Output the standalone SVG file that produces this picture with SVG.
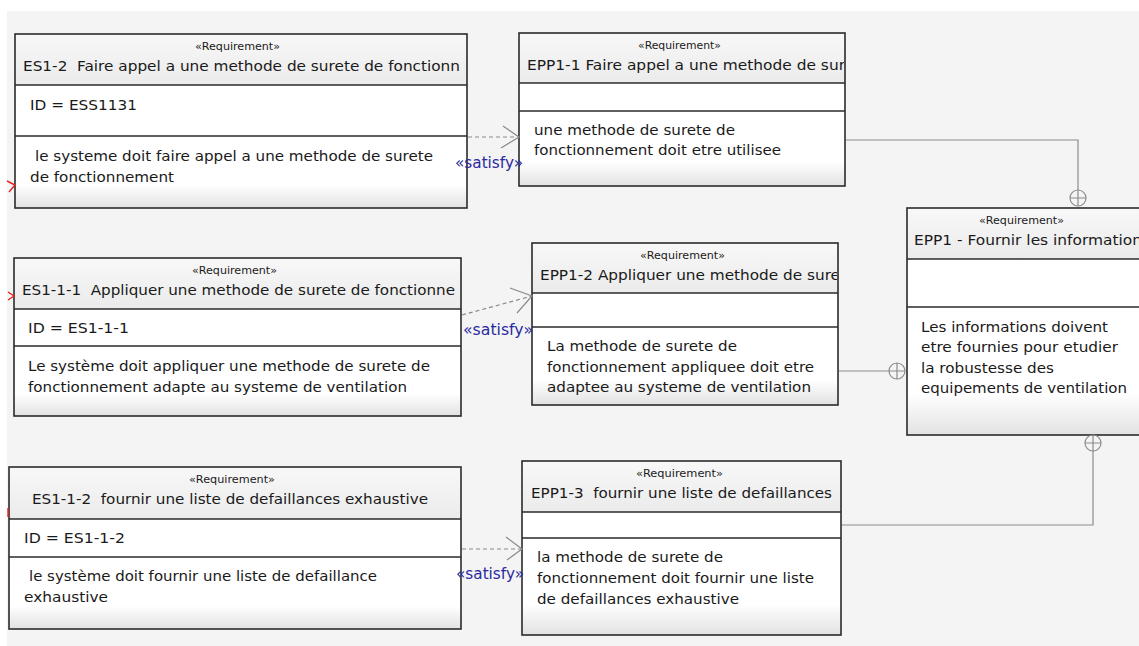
<svg xmlns="http://www.w3.org/2000/svg" width="1139" height="646" viewBox="0 0 1139 646">
<style>
.box{stroke:#2b2b2b;stroke-width:1.6}
.hdr{fill:url(#gh)}
.c1{fill:#ffffff}
.c2{fill:url(#gb)}
.sep{stroke:#2b2b2b;stroke-width:1.6}
text{font-family:"DejaVu Sans","Liberation Sans",Arial,sans-serif;fill:#1a1a1a}
.st{font-size:10.5px;text-anchor:middle}
.tt{font-size:14px}
.tx{font-size:14px}
.sat{font-size:15px;fill:#2a2aa0}
.dash{fill:none;stroke:#8a8a8a;stroke-width:1.2;stroke-dasharray:4 3}
.arr{fill:none;stroke:#8a8a8a;stroke-width:1.2}
.own{fill:none;stroke:#8c8c8c;stroke-width:1.2}
.red{fill:none;stroke:#e82020;stroke-width:1.4}
</style>
<defs>
<linearGradient id="gh" x1="0" y1="0" x2="0" y2="1"><stop offset="0" stop-color="#f8f8f8"/><stop offset="1" stop-color="#ebebeb"/></linearGradient>
<linearGradient id="gb" x1="0" y1="0" x2="0" y2="1"><stop offset="0" stop-color="#ffffff"/><stop offset="0.68" stop-color="#ffffff"/><stop offset="1" stop-color="#e2e2e2"/></linearGradient>
<clipPath id="k1"><rect x="15" y="34" width="452" height="174"/></clipPath>
<clipPath id="k2"><rect x="519" y="33" width="325" height="153"/></clipPath>
<clipPath id="k3"><rect x="532" y="243" width="305" height="162"/></clipPath>
</defs>
<rect x="0" y="0" width="1139" height="646" fill="#ffffff"/>
<rect x="7" y="11" width="1132" height="635" fill="#f4f4f4"/>

<g id="es1-2">
<rect class="hdr" x="15" y="34" width="452" height="51"/>
<rect class="c1" x="15" y="85" width="452" height="51"/>
<rect class="c2" x="15" y="136" width="452" height="72"/>
<rect class="box" x="15" y="34" width="452" height="174" fill="none"/>
<path class="sep" d="M15,85 H467 M15,136 H467"/>
<g clip-path="url(#k1)">
<text class="st" x="237.5" y="50" textLength="85" lengthAdjust="spacingAndGlyphs">«Requirement»</text>
<text class="tt" x="23" y="71" textLength="437" lengthAdjust="spacingAndGlyphs" xml:space="preserve">ES1-2  Faire appel a une methode de surete de fonctionn</text>
<text class="tx" x="30" y="110" textLength="107" lengthAdjust="spacingAndGlyphs">ID = ESS1131</text>
<text class="tx" x="35" y="161" textLength="398" lengthAdjust="spacingAndGlyphs">le systeme doit faire appel a une methode de surete</text>
<text class="tx" x="30" y="182" textLength="144" lengthAdjust="spacingAndGlyphs">de fonctionnement</text>
</g>
</g>

<g id="epp1-1">
<rect class="hdr" x="519" y="33" width="326" height="50"/>
<rect class="c1" x="519" y="83" width="326" height="28"/>
<rect class="c2" x="519" y="111" width="326" height="75"/>
<rect class="box" x="519" y="33" width="326" height="153" fill="none"/>
<path class="sep" d="M519,83 H845 M519,111 H845"/>
<g clip-path="url(#k2)">
<text class="st" x="679.5" y="49" textLength="83" lengthAdjust="spacingAndGlyphs">«Requirement»</text>
<text class="tt" x="527" y="70" textLength="318" lengthAdjust="spacingAndGlyphs">EPP1-1 Faire appel a une methode de sur</text>
<text class="tx" x="534" y="135" textLength="201" lengthAdjust="spacingAndGlyphs">une methode de surete de</text>
<text class="tx" x="534" y="155" textLength="247" lengthAdjust="spacingAndGlyphs">fonctionnement doit etre utilisee</text>
</g>
</g>

<g id="epp1">
<rect class="hdr" x="907" y="208" width="240" height="51"/>
<rect class="c1" x="907" y="259" width="240" height="48"/>
<rect class="c2" x="907" y="307" width="240" height="128"/>
<rect class="box" x="907" y="208" width="240" height="227" fill="none"/>
<path class="sep" d="M907,259 H1147 M907,307 H1147"/>
<text class="st" x="1021.5" y="224" textLength="85" lengthAdjust="spacingAndGlyphs">«Requirement»</text>
<text class="tt" x="914" y="245" textLength="228" lengthAdjust="spacingAndGlyphs">EPP1 - Fournir les information</text>
<text class="tx" x="921" y="332" textLength="187" lengthAdjust="spacingAndGlyphs">Les informations doivent</text>
<text class="tx" x="921" y="352" textLength="197" lengthAdjust="spacingAndGlyphs">etre fournies pour etudier</text>
<text class="tx" x="921" y="373" textLength="133" lengthAdjust="spacingAndGlyphs">la robustesse des</text>
<text class="tx" x="921" y="393" textLength="206" lengthAdjust="spacingAndGlyphs">equipements de ventilation</text>
</g>

<g id="es1-1-1">
<rect class="hdr" x="14" y="258" width="447" height="51"/>
<rect class="c1" x="14" y="309" width="447" height="37"/>
<rect class="c2" x="14" y="346" width="447" height="70"/>
<rect class="box" x="14" y="258" width="447" height="158" fill="none"/>
<path class="sep" d="M14,309 H461 M14,346 H461"/>
<text class="st" x="234.5" y="274" textLength="85" lengthAdjust="spacingAndGlyphs">«Requirement»</text>
<text class="tt" x="22" y="295" textLength="433" lengthAdjust="spacingAndGlyphs" xml:space="preserve">ES1-1-1  Appliquer une methode de surete de fonctionne</text>
<text class="tx" x="28" y="333" textLength="101" lengthAdjust="spacingAndGlyphs">ID = ES1-1-1</text>
<text class="tx" x="28" y="371" textLength="402" lengthAdjust="spacingAndGlyphs">Le système doit appliquer une methode de surete de</text>
<text class="tx" x="28" y="392" textLength="379" lengthAdjust="spacingAndGlyphs">fonctionnement adapte au systeme de ventilation</text>
</g>

<g id="epp1-2">
<rect class="hdr" x="532" y="243" width="306" height="50"/>
<rect class="c1" x="532" y="293" width="306" height="34"/>
<rect class="c2" x="532" y="327" width="306" height="78"/>
<rect class="box" x="532" y="243" width="306" height="162" fill="none"/>
<path class="sep" d="M532,293 H838 M532,327 H838"/>
<g clip-path="url(#k3)">
<text class="st" x="682.5" y="259" textLength="85" lengthAdjust="spacingAndGlyphs">«Requirement»</text>
<text class="tt" x="540" y="280" textLength="300" lengthAdjust="spacingAndGlyphs">EPP1-2 Appliquer une methode de sure</text>
<text class="tx" x="547" y="351" textLength="190" lengthAdjust="spacingAndGlyphs">La methode de surete de</text>
<text class="tx" x="547" y="372" textLength="267" lengthAdjust="spacingAndGlyphs">fonctionnement appliquee doit etre</text>
<text class="tx" x="547" y="392" textLength="264" lengthAdjust="spacingAndGlyphs">adaptee au systeme de ventilation</text>
</g>
</g>

<g id="es1-1-2">
<rect class="hdr" x="9" y="467" width="452" height="52"/>
<rect class="c1" x="9" y="519" width="452" height="38"/>
<rect class="c2" x="9" y="557" width="452" height="72"/>
<rect class="box" x="9" y="467" width="452" height="162" fill="none"/>
<path class="sep" d="M9,519 H461 M9,557 H461"/>
<text class="st" x="232" y="483" textLength="86" lengthAdjust="spacingAndGlyphs">«Requirement»</text>
<text class="tt" x="32" y="504" textLength="396" lengthAdjust="spacingAndGlyphs" xml:space="preserve">ES1-1-2  fournir une liste de defaillances exhaustive</text>
<text class="tx" x="24" y="543" textLength="101" lengthAdjust="spacingAndGlyphs">ID = ES1-1-2</text>
<text class="tx" x="29" y="581" textLength="348" lengthAdjust="spacingAndGlyphs">le système doit fournir une liste de defaillance</text>
<text class="tx" x="24" y="602" textLength="84" lengthAdjust="spacingAndGlyphs">exhaustive</text>
</g>

<g id="epp1-3">
<rect class="hdr" x="522" y="461" width="319" height="51"/>
<rect class="c1" x="522" y="512" width="319" height="26"/>
<rect class="c2" x="522" y="538" width="319" height="97"/>
<rect class="box" x="522" y="461" width="319" height="174" fill="none"/>
<path class="sep" d="M522,512 H841 M522,538 H841"/>
<text class="st" x="679.5" y="477" textLength="87" lengthAdjust="spacingAndGlyphs">«Requirement»</text>
<text class="tt" x="531" y="498" textLength="301" lengthAdjust="spacingAndGlyphs" xml:space="preserve">EPP1-3  fournir une liste de defaillances</text>
<text class="tx" x="537" y="562" textLength="186" lengthAdjust="spacingAndGlyphs">la methode de surete de</text>
<text class="tx" x="537" y="583" textLength="277" lengthAdjust="spacingAndGlyphs">fonctionnement doit fournir une liste</text>
<text class="tx" x="537" y="604" textLength="202" lengthAdjust="spacingAndGlyphs">de defaillances exhaustive</text>
</g>

<g id="connectors">
<path class="dash" d="M468,137 L519,137"/>
<path class="arr" d="M503,126 L519,137 L501,148"/>
<path class="dash" d="M462,315 L532,296"/>
<path class="arr" d="M510,288 L532,296 L517,313"/>
<path class="dash" d="M462,549 L522,549"/>
<path class="arr" d="M506,537 L522,549 L507,560"/>
<text class="sat" x="455" y="168" textLength="68" lengthAdjust="spacingAndGlyphs">«satisfy»</text>
<text class="sat" x="463" y="335" textLength="70" lengthAdjust="spacingAndGlyphs">«satisfy»</text>
<text class="sat" x="456" y="579" textLength="68" lengthAdjust="spacingAndGlyphs">«satisfy»</text>
<path class="own" d="M846,140 L1078,140 L1078,190"/>
<circle class="own" cx="1078" cy="198" r="8"/>
<path class="own" d="M1070,198 L1086,198 M1078,190 L1078,206"/>
<path class="own" d="M839,371 L889,371"/>
<circle class="own" cx="897" cy="371" r="8"/>
<path class="own" d="M889,371 L905,371 M897,363 L897,379"/>
<path class="own" d="M842,525 L1093,525 L1093,451"/>
<circle class="own" cx="1093" cy="443" r="8"/>
<path class="own" d="M1085,443 L1101,443 M1093,435 L1093,451"/>
<path class="red" d="M7,181 L15,185 L9,192"/>
<path class="red" d="M8,292 L14,296 L8,300"/>
<path class="red" d="M8,508 L8,517"/>
</g>
</svg>
